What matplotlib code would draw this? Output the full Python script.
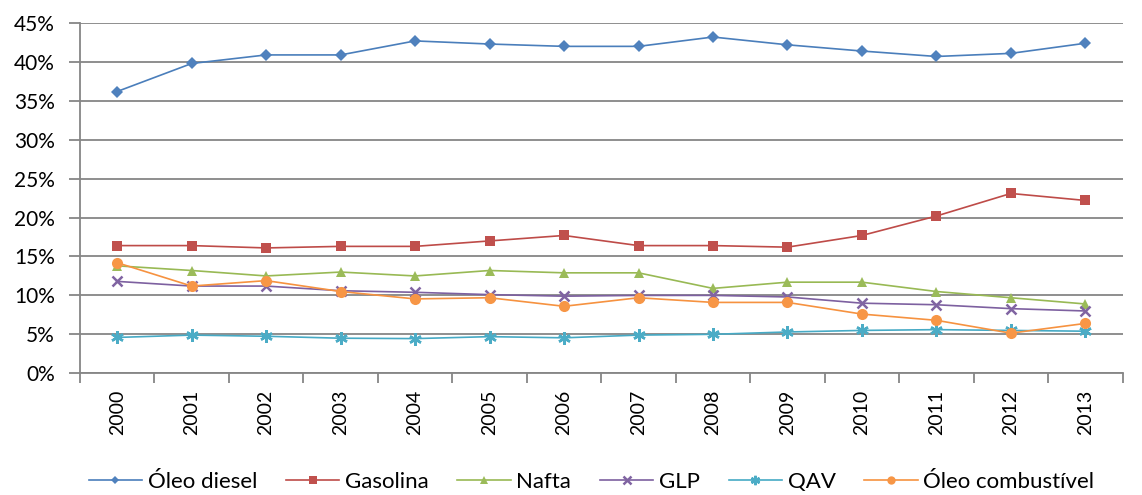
import matplotlib.pyplot as plt
from matplotlib.ticker import FuncFormatter
import numpy as np

plt.rcParams['font.family'] = ['Lato', 'DejaVu Sans']

anos = ['2000', '2001', '2002', '2003', '2004', '2005', '2006',
        '2007', '2008', '2009', '2010', '2011', '2012', '2013']

oleo_diesel = [36.2, 39.8, 40.9, 40.9, 42.7, 42.3, 42.0, 42.0, 43.2, 42.2, 41.4, 40.7, 41.1, 42.4]
gasolina = [16.4, 16.4, 16.1, 16.3, 16.3, 17.0, 17.7, 16.4, 16.4, 16.2, 17.7, 20.2, 23.1, 22.2]
nafta = [13.8, 13.2, 12.5, 13.0, 12.5, 13.2, 12.9, 12.9, 10.9, 11.7, 11.7, 10.5, 9.7, 8.9]
glp = [11.8, 11.2, 11.2, 10.6, 10.4, 10.1, 9.9, 10.0, 10.0, 9.8, 9.0, 8.8, 8.3, 8.0]
qav = [4.6, 4.9, 4.75, 4.5, 4.45, 4.7, 4.55, 4.9, 5.0, 5.3, 5.5, 5.6, 5.5, 5.4]
oleo_combustivel = [14.2, 11.2, 11.9, 10.5, 9.55, 9.7, 8.6, 9.7, 9.1, 9.1, 7.6, 6.8, 5.15, 6.4]

series = [
    ('Óleo diesel', oleo_diesel, '#4A7EBB', '#4F81BD', 'D', 6),
    ('Gasolina', gasolina, '#BE4B48', '#C0504D', 's', 7),
    ('Nafta', nafta, '#98B954', '#9BBB59', '^', 7.5),
    ('GLP', glp, '#7D60A0', '#8064A2', 'x', 7),
    ('QAV', qav, '#46AAC5', '#4BACC6', (6, 2, 0), 9),
    ('Óleo combustível', oleo_combustivel, '#F69240', '#F79646', 'o', 8),
]

fig = plt.figure(figsize=(11.42, 4.95), dpi=100)
ax = fig.add_axes([0.070, 0.246, 0.913, 0.7075])

x = np.arange(len(anos))
for nome, vals, cor_linha, cor_marc, m, ms in series:
    mew = 1.8 if m in ('x', (6, 2, 0)) else 0
    ax.plot(x, vals, color=cor_linha, lw=1.2, marker=m, ms=ms,
            markerfacecolor=cor_marc, markeredgecolor=cor_marc, markeredgewidth=mew,
            label=nome, zorder=3)

ax.set_xlim(-0.5, len(anos) - 0.5)
ax.set_ylim(0, 45)
ax.set_yticks(np.arange(0, 46, 5))
ax.yaxis.set_major_formatter(FuncFormatter(lambda v, p: f'{v:.0f}%'))
ax.grid(axis='y', color='#868686', lw=1.3)
ax.set_axisbelow(True)

ax.set_xticks(x)
ax.set_xticklabels(anos, rotation=90)
ax.set_xticks(np.arange(-0.5, len(anos), 1), minor=True)
ax.tick_params(axis='x', which='major', length=0, pad=12, labelsize=14)
ax.tick_params(axis='x', which='minor', length=7, color='#868686', width=1.3)
ax.tick_params(axis='y', length=8, color='#868686', width=1.3, labelsize=15, pad=10)

for s in ['top', 'right']:
    ax.spines[s].set_visible(False)
for s in ['left', 'bottom']:
    ax.spines[s].set_color('#868686')
    ax.spines[s].set_linewidth(1.3)

leg = fig.legend(loc='center', bbox_to_anchor=(0.518, 0.026), ncol=6, frameon=False,
                 fontsize=16, handlelength=2.4, columnspacing=1.3, handletextpad=0.25)
for h in leg.legend_handles:
    h.set_markersize(h.get_markersize() * 0.75)

fig.savefig('out.png', dpi=100)
